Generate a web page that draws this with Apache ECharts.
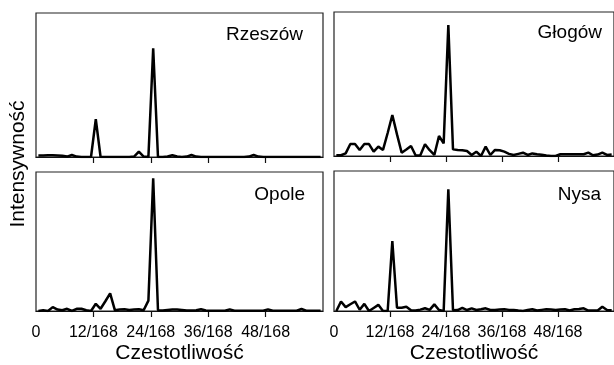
<!DOCTYPE html>
<html>
<head>
<meta charset="utf-8">
<script src="https://cdn.jsdelivr.net/npm/echarts@6/dist/echarts.min.js"></script>
<style>
html,body{margin:0;padding:0;background:#fff;}
#chart{width:614px;height:365px;}
</style>
</head>
<body>
<div id="chart"></div>
<script>
// frequency bins k (frequency = k/168), one value per bin
const bins = Array.from({length: 60}, (_, k) => String(k));
const tickValues = [0, 12, 24, 36, 48];
const tickLabels = ['0', '12/168', '24/168', '36/168', '48/168'];
const panelNames = ['Rzeszów', 'Głogów', 'Opole', 'Nysa'];
const xTitle = 'Czestotliwość';
const yTitle = 'Intensywność';

// relative intensity (% of panel height)
const rzeszow = [1, 1, 1.2, 1.2, 1, 0.8, 0.3, 1.4, 0.3, 0, 0, 0, 26.2, 0, 0, 0, 0, 0, 0, 0,
  0.3, 3.7, 0.3, 0, 75.5, 0, 0, 0.3, 1.2, 0.3, 0, 0.3, 1.4, 0.3, 0, 0, 0, 0, 0, 0,
  0, 0, 0, 0, 0.3, 1.4, 0.3, 0, 0, 0, 0, 0, 0, 0, 0, 0, 0, 0, 0, 0];
const glogow = [0.5, 0.5, 1.8, 8.3, 8.3, 4.2, 8.3, 8.3, 3, 6.5, 4.2, 16, 28.5, 15, 2.3, 4.5, 7, 0.3, 0.5, 8.1,
  4, 0.7, 13.9, 8.8, 91, 4.6, 4.2, 4, 3.5, 0.7, 3, 0, 6.5, 0.7, 4.2, 4, 3, 1.5, 0.7, 1.5,
  2.3, 0.7, 1.8, 1.2, 0.8, 0.3, 0, 0, 1.2, 1.2, 1.2, 1.2, 1.2, 1.2, 2.3, 0.5, 1, 2.3, 0.7, 1];
const opole = [0, 0.5, 0, 2.8, 1, 0.5, 1.6, 0, 1.6, 1.6, 0.5, 0, 5.2, 1.6, 7, 12.7, 0.5, 1, 1.2, 0.8,
  1, 1.2, 0.5, 7.5, 95.5, 0.5, 0.3, 0.8, 1, 1, 0.8, 0.3, 0.3, 0.5, 1.2, 0.3, 0.2, 0.2, 0.2, 0.2,
  1.2, 0.2, 0.2, 0.2, 0.2, 0.2, 0.2, 0.2, 1.2, 0.2, 0.2, 0.2, 0.2, 0.2, 0.2, 1.4, 0.2, 0.2, 0.2, 0.2];
const nysa = [0, 6.8, 2.8, 4.8, 6.8, 0.9, 5.1, 0, 2.2, 4.4, 0, 0, 50, 2.3, 2.3, 3, 0.5, 0.3, 1, 2,
  0.8, 4.7, 0.7, 0, 87, 0.5, 0.7, 2.3, 0.7, 1.9, 0.7, 1.2, 1.9, 0.7, 0.7, 1, 1.2, 0.8, 0.7, 0.3,
  0, 0.7, 1.2, 0.3, 0.8, 1.2, 1, 0.7, 1, 1.2, 0.3, 1.2, 1.4, 1.9, 0.3, 0.3, 0.3, 3, 0.7, 0.5];
const seriesData = [rzeszow, glogow, opole, nysa];

const FONT = '"Liberation Sans", Arial, sans-serif';
const grids = [
  {left: 36, width: 287, top: 13, height: 144},
  {left: 334, width: 287, top: 12, height: 144},
  {left: 36, width: 287, top: 172, height: 142},
  {left: 334, width: 287, top: 171, height: 143}
];
const titlePos = [
  {right: 311, top: 25}, {right: 12, top: 23}, {right: 309, top: 185}, {right: 13, top: 185}
];

const xAxes = [], yAxes = [], series = [];
grids.forEach((g, p) => {
  const bottomRow = p >= 2;
  xAxes.push({
    type: 'value', gridIndex: p, min: 0, max: 60, interval: 12,
    axisLine: {show: true, lineStyle: {color: '#111', width: 1.2}},
    axisTick: {show: true, inside: false, length: 6, customValues: [12, 24, 36, 48],
      lineStyle: {color: '#111', width: 1.2}},
    axisLabel: {show: bottomRow, customValues: tickValues, margin: 14,
      fontSize: 16, color: '#000', fontFamily: FONT,
      formatter: v => tickLabels[tickValues.indexOf(v)] || ''},
    splitLine: {show: false},
    name: bottomRow ? xTitle : '', nameLocation: 'middle', nameGap: 32,
    nameTextStyle: {fontSize: 21, color: '#000', fontFamily: FONT}
  });
  xAxes.push({
    type: 'category', gridIndex: p, data: bins, boundaryGap: true, show: false
  });
  yAxes.push({
    type: 'value', gridIndex: p, min: 0, max: 100, show: false, splitLine: {show: false}
  });
  series.push({
    type: 'line', xAxisIndex: p * 2 + 1, yAxisIndex: p, data: seriesData[p],
    symbol: 'none', lineStyle: {color: '#000', width: 2.5}, animation: false, silent: true
  });
});

const chart = echarts.init(document.getElementById('chart'), null, {renderer: 'canvas'});
chart.setOption({
  backgroundColor: '#fff',
  animation: false,
  grid: grids.map(g => Object.assign({show: true, borderColor: '#222', borderWidth: 1.2,
    backgroundColor: 'transparent', containLabel: false}, g)),
  title: panelNames.map((n, p) => Object.assign({
    text: n, padding: 0,
    textStyle: {fontSize: 19, fontWeight: 'normal', color: '#000', fontFamily: FONT}
  }, titlePos[p])),
  xAxis: xAxes,
  yAxis: yAxes,
  series: series,
  graphic: [{
    type: 'text', x: 18, y: 164, rotation: Math.PI / 2,
    style: {text: yTitle, fontSize: 21, fill: '#000', fontFamily: FONT,
      align: 'center', verticalAlign: 'middle'}
  }]
});
</script>
</body>
</html>
